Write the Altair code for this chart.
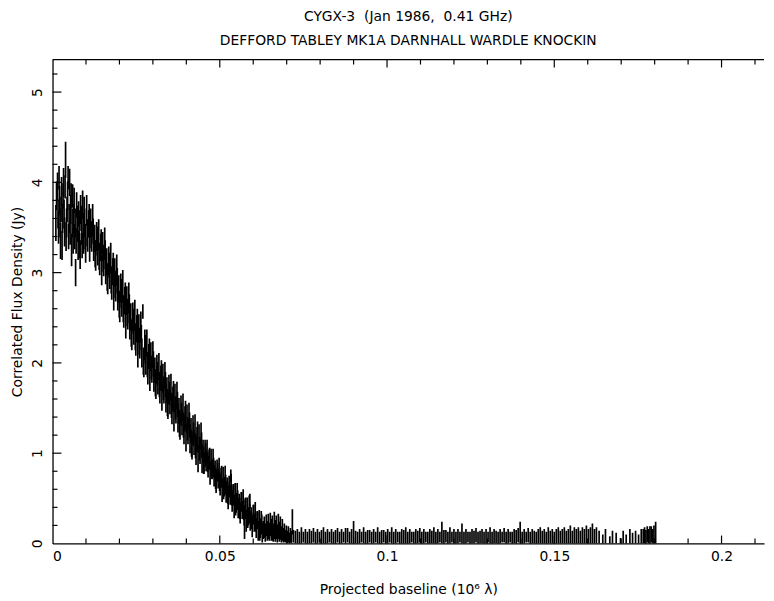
import altair as alt
import pandas as pd

# ---------------- text ----------------
TITLE_1 = "CYGX-3\u00a0\u00a0(Jan 1986,\u00a0\u00a00.41 GHz)"
TITLE_2 = "DEFFORD TABLEY MK1A DARNHALL WARDLE KNOCKIN"
X_TITLE = "Projected baseline (10\u2076 \u03bb)"
Y_TITLE = "Correlated Flux Density (Jy)"

# ---------------- axes / ticks ----------------
x_label_values = [0, 0.05, 0.1, 0.15, 0.2]
y_label_values = [0, 1, 2, 3, 4, 5]
x_major_ticks = [0.05, 0.1, 0.15, 0.2]
x_minor_ticks = [0.01, 0.02, 0.03, 0.04, 0.06, 0.07, 0.08, 0.09, 0.11, 0.12,
                 0.13, 0.14, 0.16, 0.17, 0.18, 0.19, 0.21]
y_major_ticks = [1, 2, 3, 4, 5]
y_minor_ticks = [0.2, 0.4, 0.6, 0.8, 1.2, 1.4, 1.6, 1.8, 2.2, 2.4, 2.6, 2.8,
                 3.2, 3.4, 3.6, 3.8, 4.2, 4.4, 4.6, 4.8, 5.2]

# ---------------- data (baseline in units of 10^3 lambda, flux and error in Jy) ----------------
early_b = [1.0, 1.2, 1.5, 1.65, 1.8, 1.95, 2.1, 2.25, 2.4, 2.55, 2.7, 2.85, 3.0, 3.15, 3.3, 3.45,
           3.6, 3.75, 3.9, 4.05, 4.2, 4.35, 4.5, 4.65, 4.8, 4.95, 5.1, 5.25, 5.4, 5.55, 5.7, 5.85,
           6.0, 6.15, 6.3, 6.45, 6.6, 6.75, 6.9, 7.05, 7.2, 7.35, 7.5, 7.65, 7.8, 7.95, 8.1, 8.25,
           8.4, 8.55, 8.7, 8.85, 9.0, 9.15, 9.3, 9.45, 9.6, 9.75, 9.9]
early_f = [3.55, 3.85, 3.95, 3.65, 3.50, 4.05, 3.80, 3.55, 3.35, 3.70, 3.90, 3.30, 3.60, 3.85, 4.00, 3.65,
           3.45, 3.95, 4.25, 3.40, 3.55, 3.70, 3.85, 4.05, 3.40, 3.60, 4.00, 3.45, 3.70, 3.85, 3.25, 3.55,
           3.85, 3.35, 3.60, 3.80, 3.40, 3.55, 3.00, 3.35, 3.75, 3.60, 3.50, 3.30, 3.65, 3.55, 3.30, 3.20,
           3.70, 3.60, 3.45, 3.30, 3.75, 3.50, 3.35, 3.70, 3.55, 3.40, 3.25]
early_e = [0.20, 0.16, 0.16, 0.16, 0.18, 0.13, 0.16, 0.16, 0.20, 0.14, 0.16, 0.16, 0.16, 0.14, 0.16, 0.16,
           0.16, 0.13, 0.20, 0.16, 0.16, 0.14, 0.16, 0.13, 0.14, 0.16, 0.15, 0.14, 0.16, 0.14, 0.18, 0.16,
           0.13, 0.14, 0.16, 0.14, 0.14, 0.16, 0.15, 0.14, 0.14, 0.14, 0.16, 0.16, 0.14, 0.14, 0.14, 0.16,
           0.16, 0.14, 0.14, 0.14, 0.16, 0.16, 0.14, 0.14, 0.16, 0.14, 0.14]

mid_b = [10.2, 10.5, 10.8, 11.1, 11.4, 11.7, 12.0, 12.3, 12.6, 12.9,
         13.2, 13.5, 13.8, 14.1, 14.4, 14.7, 15.0, 15.3, 15.6, 15.9,
         16.2, 16.5, 16.8, 17.1, 17.4, 17.7, 18.0, 18.3, 18.6, 18.9,
         19.2, 19.5, 19.8, 20.1, 20.4, 20.7, 21.0, 21.3, 21.6, 21.9,
         22.2, 22.5, 22.8, 23.1, 23.4, 23.7, 24.0, 24.3, 24.6, 24.9,
         25.2, 25.5, 25.8, 26.1, 26.4, 26.7, 27.0, 27.3, 27.6, 27.9,
         28.2, 28.5, 28.8, 29.1, 29.4, 29.7, 30.0, 30.3, 30.6, 30.9,
         31.2, 31.5, 31.8, 32.1, 32.4, 32.7, 33.0, 33.3, 33.6, 33.9,
         34.2, 34.5, 34.8, 35.1, 35.4, 35.7, 36.0, 36.3, 36.6, 36.9,
         37.2, 37.5, 37.8, 38.1, 38.4, 38.7, 39.0, 39.3, 39.6, 39.9,
         40.2, 40.5, 40.8, 41.1, 41.4, 41.7, 42.0, 42.3, 42.6, 42.9,
         43.2, 43.5, 43.8, 44.1, 44.4, 44.7, 45.0, 45.3, 45.6, 45.9,
         46.2, 46.5, 46.8, 47.1, 47.4, 47.7, 48.0, 48.3, 48.6, 48.9,
         49.2, 49.5, 49.8, 50.1, 50.4, 50.7, 51.0, 51.3, 51.6, 51.9,
         52.2, 52.5, 52.8, 53.1, 53.4, 53.7, 54.0, 54.3, 54.6, 54.9,
         55.2, 55.5, 55.8, 56.1, 56.4, 56.7, 57.0, 57.3, 57.6, 57.9,
         58.2, 58.5, 58.8, 59.1, 59.4, 59.7, 60.0, 60.3, 60.6, 60.9,
         61.2, 61.5, 61.8, 62.1, 62.4, 62.7]
mid_f = [3.69, 3.39, 3.54, 3.29, 3.55, 3.38, 3.58, 3.29, 3.38, 3.19,
         3.40, 3.23, 3.42, 3.13, 3.28, 3.03, 3.29, 3.11, 3.32, 3.03,
         3.12, 2.93, 3.13, 2.97, 3.16, 2.86, 3.01, 2.75, 3.00, 2.83,
         3.03, 2.74, 2.82, 2.62, 2.83, 2.66, 2.85, 2.55, 2.69, 2.44,
         2.69, 2.52, 2.72, 2.42, 2.51, 2.31, 2.51, 2.35, 2.53, 2.24,
         2.38, 2.12, 2.38, 2.20, 2.40, 2.11, 2.57, 1.99, 2.20, 2.03,
         2.22, 1.92, 2.07, 1.84, 2.07, 1.92, 2.09, 1.84, 1.92, 1.75,
         1.93, 1.79, 1.96, 1.71, 1.83, 1.62, 1.83, 1.69, 1.86, 1.61,
         1.70, 1.53, 1.71, 1.57, 1.73, 1.48, 1.60, 1.39, 1.61, 1.47,
         1.64, 1.39, 1.47, 1.30, 1.48, 1.34, 1.51, 1.26, 1.38, 1.17,
         1.38, 1.24, 1.41, 1.16, 1.25, 1.08, 1.26, 1.12, 1.28, 1.03,
         1.15, 0.94, 1.16, 1.02, 1.19, 0.94, 1.02, 0.89, 1.02, 0.92,
         1.02, 0.85, 0.93, 0.78, 0.93, 0.82, 0.92, 0.75, 0.81, 0.69,
         0.81, 0.72, 0.82, 0.65, 0.73, 0.59, 0.73, 0.63, 0.73, 0.57,
         0.62, 0.51, 0.63, 0.54, 0.64, 0.47, 0.55, 0.41, 0.55, 0.45,
         0.55, 0.39, 0.45, 0.34, 0.46, 0.37, 0.48, 0.31, 0.40, 0.25,
         0.40, 0.30, 0.41, 0.25, 0.30, 0.19, 0.32, 0.23, 0.34, 0.17,
         0.26, 0.14, 0.27, 0.17, 0.26, 0.12]
mid_e = [0.17, 0.16, 0.15, 0.17, 0.16, 0.15, 0.18, 0.16, 0.15, 0.17,
         0.16, 0.15, 0.17, 0.16, 0.15, 0.17, 0.16, 0.15, 0.18, 0.16,
         0.15, 0.17, 0.16, 0.15, 0.17, 0.16, 0.15, 0.17, 0.16, 0.15,
         0.17, 0.16, 0.15, 0.17, 0.16, 0.15, 0.18, 0.16, 0.15, 0.17,
         0.16, 0.15, 0.17, 0.16, 0.15, 0.17, 0.16, 0.15, 0.17, 0.16,
         0.15, 0.17, 0.16, 0.15, 0.17, 0.16, 0.08, 0.15, 0.17, 0.16,
         0.15, 0.16, 0.14, 0.15, 0.16, 0.14, 0.15, 0.16, 0.14, 0.15,
         0.16, 0.14, 0.15, 0.16, 0.14, 0.15, 0.16, 0.14, 0.15, 0.16,
         0.14, 0.15, 0.16, 0.14, 0.15, 0.16, 0.14, 0.15, 0.16, 0.14,
         0.15, 0.16, 0.14, 0.15, 0.16, 0.14, 0.15, 0.16, 0.14, 0.15,
         0.16, 0.14, 0.15, 0.16, 0.14, 0.15, 0.16, 0.14, 0.15, 0.16,
         0.14, 0.15, 0.16, 0.14, 0.15, 0.16, 0.13, 0.12, 0.13, 0.12,
         0.13, 0.12, 0.11, 0.13, 0.12, 0.11, 0.13, 0.12, 0.11, 0.13,
         0.12, 0.11, 0.13, 0.12, 0.11, 0.13, 0.12, 0.11, 0.13, 0.12,
         0.11, 0.13, 0.12, 0.11, 0.13, 0.12, 0.11, 0.13, 0.12, 0.11,
         0.12, 0.11, 0.10, 0.12, 0.11, 0.10, 0.12, 0.11, 0.10, 0.12,
         0.11, 0.10, 0.12, 0.11, 0.10, 0.12, 0.11, 0.10, 0.12, 0.11,
         0.10, 0.11, 0.10, 0.11, 0.10, 0.11]

mid2_b = [10.35, 10.95, 11.55, 12.15, 12.75, 13.35, 13.95, 14.55, 15.15, 15.75,
          16.35, 16.95, 17.55, 18.15, 18.75, 19.35, 19.95, 20.55, 21.15, 21.75,
          22.35, 22.95, 23.55, 24.15, 24.75, 25.35, 25.95, 26.55, 27.15, 27.75,
          28.35, 28.95, 29.55, 30.15, 30.75, 31.35, 31.95, 32.55, 33.15, 33.75,
          34.35, 34.95, 35.55, 36.15, 36.75, 37.35, 37.95, 38.55, 39.15, 39.75,
          40.35, 40.95, 41.55, 42.15, 42.75, 43.35, 43.95, 44.55, 45.15, 45.75,
          46.35, 46.95, 47.55, 48.15, 48.75, 49.35, 49.95, 50.55, 51.15, 51.75,
          52.35, 52.95, 53.55, 54.15, 54.75, 55.35, 55.95, 56.55, 57.15, 57.75,
          58.35, 58.95, 59.55, 60.15, 60.75, 61.35, 61.95, 62.55]
mid2_f = [3.44, 3.60, 3.42, 3.46, 3.21, 3.35, 3.18, 3.34, 3.16, 3.20,
          2.95, 3.08, 2.92, 3.06, 2.87, 2.91, 2.65, 2.77, 2.60, 2.75,
          2.56, 2.60, 2.33, 2.46, 2.29, 2.44, 2.24, 2.28, 2.02, 2.15,
          1.98, 2.12, 1.95, 1.99, 1.78, 1.88, 1.76, 1.88, 1.72, 1.76,
          1.56, 1.66, 1.53, 1.65, 1.50, 1.54, 1.33, 1.43, 1.31, 1.43,
          1.27, 1.31, 1.11, 1.21, 1.08, 1.20, 1.05, 1.09, 0.92, 0.98,
          0.90, 0.94, 0.82, 0.84, 0.72, 0.79, 0.69, 0.74, 0.59, 0.65,
          0.56, 0.63, 0.53, 0.54, 0.41, 0.48, 0.39, 0.47, 0.37, 0.39,
          0.27, 0.33, 0.25, 0.33, 0.24, 0.26, 0.13, 0.21]
mid2_e = [0.15, 0.16, 0.15, 0.14, 0.15, 0.16, 0.15, 0.14, 0.15, 0.16,
          0.15, 0.14, 0.15, 0.16, 0.15, 0.14, 0.15, 0.16, 0.15, 0.14,
          0.15, 0.16, 0.15, 0.14, 0.15, 0.16, 0.15, 0.14, 0.15, 0.16,
          0.14, 0.15, 0.13, 0.14, 0.15, 0.13, 0.14, 0.15, 0.13, 0.14,
          0.15, 0.13, 0.14, 0.15, 0.13, 0.14, 0.15, 0.13, 0.14, 0.15,
          0.13, 0.14, 0.15, 0.13, 0.14, 0.15, 0.13, 0.14, 0.15, 0.13,
          0.11, 0.12, 0.10, 0.11, 0.12, 0.10, 0.11, 0.12, 0.10, 0.11,
          0.12, 0.10, 0.11, 0.12, 0.10, 0.11, 0.12, 0.10, 0.11, 0.12,
          0.10, 0.11, 0.09, 0.10, 0.11, 0.09, 0.10, 0.11]

out_b = [53.3, 57.4, 59.0]
out_f = [0.75, 0.16, 0.47]
out_e = [0.07, 0.11, 0.08]

tailA_b = [63.0, 63.3, 63.6, 63.9, 64.2, 64.5, 64.8, 65.1, 65.4, 65.7, 66.0, 66.3, 66.6, 66.9,
           67.2, 67.5, 67.8, 68.1, 68.4, 68.7, 69.0, 69.3, 69.6, 69.9, 70.2, 70.5, 70.8, 71.1,
           71.4, 71.7, 72.0]
tailA_f = [0.15, 0.18, 0.12, 0.20, 0.14, 0.19, 0.13, 0.21, 0.15, 0.17, 0.12, 0.20, 0.14, 0.18,
           0.11, 0.19, 0.13, 0.17, 0.10, 0.15, 0.09, 0.12, 0.08, 0.11, 0.07, 0.10, 0.06, 0.09,
           0.07, 0.24, 0.08]
tailA_e = [0.10, 0.12, 0.10, 0.12, 0.11, 0.14, 0.10, 0.13, 0.12, 0.14, 0.10, 0.15, 0.12, 0.13,
           0.10, 0.14, 0.11, 0.13, 0.09, 0.12, 0.08, 0.10, 0.07, 0.09, 0.07, 0.09, 0.06, 0.08,
           0.07, 0.14, 0.07]

tailB_b = [72.6, 73.2, 73.8, 74.4, 75.0, 75.6, 76.2, 76.8, 77.4, 78.0,
           78.6, 79.2, 79.8, 80.4, 81.0, 81.6, 82.2, 82.8, 83.4, 84.0,
           84.6, 85.2, 85.8, 86.4, 87.0, 87.6, 88.2, 88.8, 89.4, 90.0,
           90.6, 91.2, 91.8, 92.4, 93.0, 93.6, 94.2, 94.8, 95.4, 96.0,
           96.6, 97.2, 97.8, 98.4, 99.0, 99.6, 100.2, 100.8, 101.4, 102.0,
           102.6, 103.2, 103.8, 104.4, 105.0, 105.6, 106.2, 106.8, 107.4, 108.0,
           108.6, 109.2, 109.8, 110.4, 111.0, 111.6, 112.2, 112.8, 113.4, 114.0,
           114.6, 115.2, 115.8, 116.4, 117.0, 117.6, 118.2, 118.8, 119.4, 120.0,
           120.6, 121.2, 121.8, 122.4, 123.0, 123.6, 124.2, 124.8, 125.4, 126.0,
           126.6, 127.2, 127.8, 128.4, 129.0, 129.6, 130.2, 130.8, 131.4, 132.0,
           132.6, 133.2, 133.8, 134.4, 135.0, 135.6, 136.2, 136.8, 137.4, 138.0,
           138.6, 139.2, 139.8, 140.4, 141.0, 141.6, 142.2, 142.8, 143.4, 144.0,
           144.6, 145.2, 145.8, 146.4, 147.0, 147.6, 148.2, 148.8, 149.4, 150.0,
           150.6, 151.2, 151.8, 152.4, 153.0, 153.6, 154.2, 154.8, 155.4, 156.0,
           156.6, 157.2, 157.8, 158.4, 159.0, 159.6, 160.2, 160.8, 161.4, 162.0,
           162.6]
tailB_f = [0.07, 0.08, 0.06, 0.09, 0.07, 0.08, 0.06, 0.08, 0.07, 0.09,
           0.06, 0.08, 0.07, 0.07, 0.09, 0.06, 0.08, 0.07, 0.08, 0.06,
           0.07, 0.09, 0.06, 0.08, 0.07, 0.08, 0.09, 0.06, 0.08, 0.12,
           0.07, 0.06, 0.08, 0.07, 0.09, 0.06, 0.07, 0.08, 0.06, 0.08,
           0.07, 0.09, 0.06, 0.07, 0.08, 0.06, 0.08, 0.07, 0.09, 0.06,
           0.08, 0.07, 0.06, 0.08, 0.07, 0.09, 0.06, 0.08, 0.07, 0.06,
           0.08, 0.07, 0.09, 0.06, 0.08, 0.07, 0.06, 0.08, 0.07, 0.09,
           0.06, 0.08, 0.07, 0.12, 0.07, 0.08, 0.06, 0.09, 0.07, 0.08,
           0.06, 0.08, 0.07, 0.11, 0.06, 0.08, 0.07, 0.06, 0.08, 0.07,
           0.09, 0.06, 0.07, 0.08, 0.06, 0.08, 0.07, 0.09, 0.06, 0.08,
           0.07, 0.06, 0.08, 0.07, 0.09, 0.06, 0.08, 0.07, 0.06, 0.08,
           0.07, 0.09, 0.12, 0.06, 0.08, 0.07, 0.09, 0.06, 0.08, 0.07,
           0.06, 0.08, 0.09, 0.07, 0.08, 0.06, 0.09, 0.07, 0.08, 0.06,
           0.08, 0.09, 0.07, 0.08, 0.09, 0.07, 0.08, 0.10, 0.07, 0.09,
           0.08, 0.09, 0.07, 0.09, 0.08, 0.10, 0.08, 0.09, 0.11, 0.08,
           0.09]
tailB_e = [0.07, 0.08, 0.07, 0.09, 0.06, 0.08, 0.07, 0.08, 0.07, 0.08,
           0.07, 0.08, 0.06, 0.08, 0.09, 0.07, 0.08, 0.06, 0.08, 0.07,
           0.08, 0.08, 0.07, 0.08, 0.06, 0.09, 0.08, 0.07, 0.08, 0.13,
           0.07, 0.07, 0.08, 0.06, 0.09, 0.07, 0.08, 0.07, 0.07, 0.08,
           0.06, 0.09, 0.07, 0.08, 0.07, 0.07, 0.08, 0.06, 0.09, 0.07,
           0.08, 0.06, 0.07, 0.08, 0.08, 0.09, 0.07, 0.08, 0.06, 0.07,
           0.08, 0.07, 0.08, 0.07, 0.08, 0.06, 0.07, 0.08, 0.07, 0.09,
           0.07, 0.08, 0.06, 0.12, 0.08, 0.07, 0.07, 0.09, 0.06, 0.08,
           0.07, 0.08, 0.06, 0.11, 0.07, 0.08, 0.06, 0.07, 0.08, 0.07,
           0.08, 0.07, 0.07, 0.08, 0.07, 0.08, 0.06, 0.09, 0.07, 0.08,
           0.07, 0.07, 0.08, 0.06, 0.08, 0.07, 0.08, 0.06, 0.07, 0.08,
           0.08, 0.08, 0.12, 0.07, 0.08, 0.06, 0.08, 0.07, 0.08, 0.07,
           0.07, 0.08, 0.09, 0.07, 0.08, 0.07, 0.09, 0.07, 0.08, 0.07,
           0.08, 0.09, 0.07, 0.08, 0.09, 0.07, 0.08, 0.10, 0.07, 0.09,
           0.08, 0.09, 0.07, 0.09, 0.08, 0.10, 0.08, 0.09, 0.11, 0.08,
           0.09]

tailC_b = [163.4, 164.5, 165.3, 166.6, 167.4, 168.5, 169.8, 170.6, 171.5, 172.6, 173.4, 174.3, 175.2, 176.0]
tailC_f = [0.07, 0.05, 0.08, 0.04, 0.07, 0.06, 0.03, 0.07, 0.05, 0.08, 0.06, 0.07, 0.05, 0.08]
tailC_e = [0.07, 0.05, 0.08, 0.04, 0.07, 0.06, 0.03, 0.07, 0.05, 0.08, 0.06, 0.07, 0.05, 0.08]

tailD_b = [176.6, 177.0, 177.4, 177.8, 178.2, 178.6, 179.0, 179.4, 179.8, 180.3]
tailD_f = [0.08, 0.09, 0.07, 0.10, 0.08, 0.09, 0.10, 0.08, 0.10, 0.12]
tailD_e = [0.08, 0.09, 0.08, 0.09, 0.08, 0.10, 0.09, 0.08, 0.10, 0.12]

groups = [
    (early_b, early_f, early_e), (mid_b, mid_f, mid_e), (mid2_b, mid2_f, mid2_e),
    (out_b, out_f, out_e), (tailA_b, tailA_f, tailA_e), (tailB_b, tailB_f, tailB_e),
    (tailC_b, tailC_f, tailC_e), (tailD_b, tailD_f, tailD_e),
]
rows = []
for bs, fs, es in groups:
    n = min(len(bs), len(fs), len(es))
    for i in range(n):
        rows.append({"b": bs[i] / 1000.0, "f": fs[i], "e": es[i]})
df = pd.DataFrame(rows)

# ---------------- chart ----------------
W, H = 719, 489
FONT = "DejaVu Sans"
xscale = alt.Scale(domain=[0, 0.2127], nice=False, zero=False)
yscale = alt.Scale(domain=[0, 5.36], nice=False, zero=False)

x_axis = alt.Axis(values=x_label_values, format="~g", title=X_TITLE, ticks=False,
                  domain=True, grid=False, labelPadding=6, titlePadding=20)
y_axis = alt.Axis(values=y_label_values, title=Y_TITLE, ticks=False, domain=True,
                  grid=False, labelAngle=270, labelAlign="center",
                  labelBaseline="bottom", labelPadding=8, titlePadding=6)

bars = alt.Chart(df).transform_calculate(
    lo="datum.f - datum.e", hi="datum.f + datum.e"
).mark_rule(color="black", strokeWidth=1.7, clip=True).encode(
    x=alt.X("b:Q", scale=xscale, axis=x_axis),
    y=alt.Y("lo:Q", scale=yscale, axis=y_axis),
    y2="hi:Q",
)


def xtick_layer(vals, length, top):
    d = pd.DataFrame({"b": vals})
    if top:
        yy, yy2 = alt.value(0), alt.value(length)
    else:
        yy, yy2 = alt.value(H), alt.value(H - length)
    return alt.Chart(d).mark_rule(color="black", strokeWidth=1.2).encode(
        x=alt.X("b:Q", scale=xscale, axis=x_axis), y=yy, y2=yy2)


def ytick_layer(vals, length):
    d = pd.DataFrame({"lo": vals})
    return alt.Chart(d).mark_rule(color="black", strokeWidth=1.2).encode(
        y=alt.Y("lo:Q", scale=yscale, axis=y_axis), x=alt.value(0), x2=alt.value(length))


top_frame = alt.Chart(pd.DataFrame({"k": [0]})).mark_rule(color="black", strokeWidth=1.3).encode(
    x=alt.value(0), x2=alt.value(W), y=alt.value(0))

chart = alt.layer(
    bars,
    xtick_layer(x_minor_ticks, 5, False),
    xtick_layer(x_major_ticks, 8, False),
    xtick_layer(x_minor_ticks, 5, True),
    xtick_layer(x_major_ticks, 8, True),
    ytick_layer(y_minor_ticks, 5),
    ytick_layer(y_major_ticks, 9),
    top_frame,
).properties(
    width=W, height=H,
    title=alt.TitleParams(text=[TITLE_1, TITLE_2], font=FONT, fontSize=14, fontWeight="normal",
                          color="black", anchor="middle", offset=11, lineHeight=24),
    autosize=alt.AutoSizeParams(type="none"),
    padding={"left": 45, "top": 49, "right": 2, "bottom": 53},
).configure_view(stroke=None).configure_axis(
    labelFont=FONT, titleFont=FONT, labelFontSize=14, titleFontSize=14,
    titleFontWeight="normal", labelColor="black", titleColor="black",
    domainColor="black", domainWidth=1.3,
)

chart.save("out.html", embed_options={"renderer": "svg", "actions": False})
